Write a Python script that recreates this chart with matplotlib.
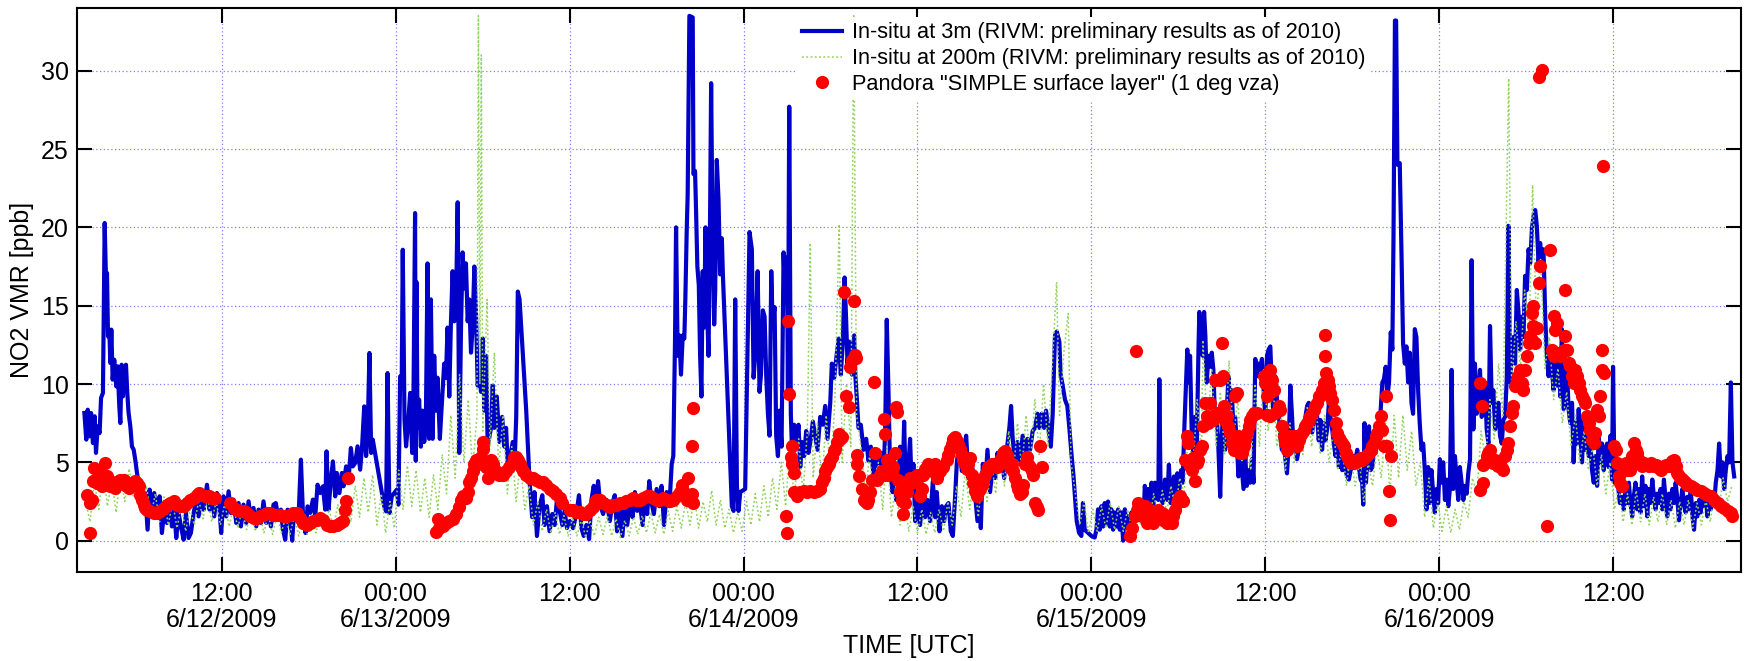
import numpy as np
import matplotlib
matplotlib.use("Agg")
import matplotlib.pyplot as plt
from matplotlib.lines import Line2D

plt.rcParams['font.family'] = ['Liberation Sans', 'DejaVu Sans']

# ---------------- data (time in hours after 2009-06-12 00:00 UTC, NO2 in ppb) ----------------
insitu_3m = [
(2.51,8.15),(2.64,6.45),(2.74,8.36),(2.87,6.66),(2.97,8.15),(3.10,6.23),(3.22,7.94),(3.31,5.60),(3.43,7.30),(3.56,6.87),
(3.66,9.11),(3.79,9.43),(3.91,20.28),(4.00,16.66),(4.07,17.09),(4.14,13.04),(4.23,13.47),(4.30,11.34),(4.37,13.47),(4.46,10.28),
(4.57,11.55),(4.71,9.85),(4.80,11.13),(4.92,8.57),(4.99,7.51),(5.08,11.23),(5.17,9.21),(5.26,10.28),(5.38,11.23),(5.47,9.43),
(5.56,8.15),(5.68,7.30),(5.79,6.02),(5.91,5.81),(6.02,5.17),(6.14,4.32),(6.25,3.68),(6.37,2.83),(6.48,3.26),(6.60,1.98),
(6.71,3.04),(6.87,0.70),(7.01,3.26),(7.17,1.98),(7.33,3.04),(7.52,1.55),(7.70,2.83),(7.86,0.49),(8.02,1.98),(8.21,1.13),
(8.39,2.62),(8.55,0.91),(8.71,1.98),(8.85,0.17),(9.01,1.77),(9.17,0.91),(9.36,0.06),(9.52,1.77),(9.70,0.17),(9.86,0.49),
(10.05,1.77),(10.23,2.62),(10.39,1.55),(10.55,2.62),(10.74,1.98),(10.97,3.57),(11.15,1.98),(11.31,3.04),(11.47,1.55),(11.66,3.04),
(11.84,1.98),(11.95,0.49),(12.11,2.83),(12.30,1.55),(12.46,3.15),(12.62,1.77),(12.80,2.62),(12.99,1.13),(13.15,2.40),(13.31,0.91),
(13.49,2.30),(13.68,1.13),(13.84,2.51),(14.00,1.34),(14.18,2.09),(14.37,0.91),(14.53,1.98),(14.69,1.13),(14.87,2.51),(15.06,1.13),
(15.22,1.98),(15.38,0.91),(15.56,2.30),(15.72,2.40),(15.91,1.34),(16.07,1.98),(16.21,0.70),(16.37,0.06),(16.53,1.98),(16.71,1.55),
(16.85,0.00),(16.99,1.98),(17.17,1.55),(17.31,1.98),(17.45,5.17),(17.59,1.77),(17.77,0.49),(17.91,2.19),(18.09,1.77),(18.28,2.62),
(18.44,1.55),(18.60,3.57),(18.78,3.04),(18.97,3.47),(19.13,1.98),(19.22,5.70),(19.36,1.98),(19.52,3.89),(19.66,5.06),(19.82,2.83),
(19.93,4.32),(20.11,3.04),(20.28,4.32),(20.39,3.47),(20.57,4.74),(20.74,3.89),(20.90,5.91),(21.03,4.74),(21.20,4.96),(21.36,6.02),
(21.54,4.53),(21.68,6.13),(21.82,8.57),(21.95,5.40),(22.05,6.55),(22.18,11.98),(22.30,5.60),(22.41,6.45),(23.20,2.19),(23.33,1.87),
(23.43,10.70),(23.56,1.77),(23.72,2.83),(23.89,3.04),(24.07,3.26),(24.18,2.30),(24.30,10.49),(24.41,10.28),(24.48,18.57),(24.60,7.72),
(24.71,6.02),(24.87,7.72),(24.99,9.43),(25.13,5.60),(25.22,9.21),(25.33,20.91),
(25.38,5.1),(25.43,16.5),(25.50,7.2),(25.61,9.0),(25.73,6.0),(25.84,8.3),(25.96,6.3),(26.07,7.2),(26.19,17.7),(26.30,6.5),
(26.42,15.4),(26.54,6.5),(26.65,11.8),(26.77,8.3),(26.88,10.4),(27.04,6.5),(27.18,8.8),(27.34,11.3),(27.46,10.4),(27.57,13.6),
(27.69,9.2),(27.80,13.8),(27.92,17.2),(28.04,14.0),(28.15,14.7),(28.27,21.6),(28.38,5.6),(28.50,13.6),(28.61,18.4),(28.73,16.1),
(28.84,17.7),(28.96,14.0),(29.07,15.4),(29.19,12.0),(29.30,13.6),(29.42,17.5),(29.54,14.3),(29.65,9.9),(29.77,10.6),(29.88,9.5),
(30.00,12.9),(30.11,8.3),(30.23,11.8),(30.34,6.0),(30.57,7.2),(30.69,9.9),(30.80,7.2),(30.97,9.2),(31.15,6.3),(31.34,7.9),
(31.50,6.0),(31.61,7.2),(31.73,4.7),(31.84,5.1),(32.07,6.3),(32.19,4.7),(32.31,7.9),(32.42,15.9),(32.54,15.4),(32.77,11.8),
(33.00,8.3),(33.23,3.8),(33.41,1.5),(33.57,3.1),(33.74,0.3),(33.92,2.2),(34.11,2.9),(34.27,1.0),(34.43,2.2),(34.61,0.6),
(34.80,1.7),(34.96,1.0),(35.12,2.6),(35.31,1.9),(35.49,1.0),(35.65,1.9),(35.81,0.8),(36.00,1.25),(36.23,0.8),(36.46,1.7),
(36.64,2.9),(36.81,0.8),(36.97,0.3),(37.15,1.0),(37.34,0.1),(37.50,2.6),(37.66,3.5),(37.80,2.2),(37.96,3.8),(38.12,2.2),
(38.31,1.7),(38.54,2.6),(38.77,1.25),(38.95,2.4),(39.11,2.9),(39.27,0.6),(39.46,2.2),(39.64,0.3),(39.81,2.6),(39.97,1.0),
(40.15,2.4),(40.34,1.5),(40.50,3.1),(40.66,1.9),(40.84,2.4),(41.03,1.0),(41.19,2.9),(41.35,1.7),(41.49,3.8),(41.65,2.4),
(41.81,1.7),(42.00,3.3),(42.18,2.2),(42.34,3.5),(42.51,1.0),(42.69,3.1),(42.88,2.2),(43.04,4.9),(43.15,5.4),(43.27,12.9),
(43.34,20.0),(43.45,11.8),(43.57,13.1),(43.68,10.6),(43.80,13.1),(43.91,12.9),(43.98,15.4),(44.08,20.0),(44.14,22.0),(44.26,33.5),
(44.49,33.4),(44.54,23.4),(44.65,23.6),(44.72,21.1),(44.81,17.5),(44.91,16.3),(45.00,11.8),(45.09,9.2),(45.18,17.2),(45.28,13.6),
(45.37,20.0),(45.46,15.4),(45.58,11.8),(45.69,20.9),(45.76,29.2),(45.85,20.4),(45.97,13.8),(46.04,15.9),(46.15,24.3),(46.27,21.8),
(46.38,17.0),(46.50,19.3),(46.57,17.0),(47.19,2.2),(47.31,1.9),(47.42,15.4),(47.54,3.5),(47.65,1.9),(47.77,3.1),(48.11,3.3),
(48.41,19.7),(48.57,18.6),(48.69,10.4),(48.80,11.8),(48.97,17.2),(49.10,9.5),(49.20,10.6),(49.33,14.7),(49.45,14.3),(49.56,10.6),
(49.68,8.1),(49.79,6.7),(49.91,17.2),(50.00,14.0),(50.14,14.9),(50.25,6.7),(50.37,5.4),(50.48,8.3),(50.62,6.0),(50.76,18.4),
(50.87,15.2),(50.99,18.1),(51.06,9.5),(51.15,27.7),(51.26,8.1),(51.38,4.7),(51.49,7.4),(51.63,6.0),(51.79,7.4),(51.91,4.7),
(52.02,6.3),(52.18,5.4),(52.32,7.0),(52.48,5.6),(52.64,6.5),(52.78,7.6),(52.94,6.7),(53.10,5.8),(53.29,7.9),(53.47,7.4),
(53.63,8.6),(53.79,6.5),(53.98,8.8),(54.09,11.3),(54.25,10.4),(54.44,12.0),(54.57,12.9),(54.71,10.6),(54.85,12.7),(54.97,16.8),
(55.08,14.0),(55.17,11.3),(55.31,12.7),(55.47,10.6),(55.63,13.1),(55.72,10.4),(55.82,9.0),(55.93,7.2),(56.09,7.4),(56.28,5.8),
(56.46,6.5),(56.62,5.1),(56.78,6.0),(56.97,4.2),(57.15,5.8),(57.31,4.7),(57.47,5.6),(57.66,4.2),(57.77,7.0),(57.88,14.1),
(58.00,9.5),(58.11,4.45),(58.28,3.1),(58.39,5.1),(58.53,2.6),(58.69,3.8),(58.80,6.0),(58.94,2.6),(59.08,7.6),(59.22,2.2),
(59.38,4.9),(59.49,6.5),(59.61,3.1),(59.72,4.9),(59.84,1.25),(60.00,2.6),(60.18,1.0),(60.37,3.1),(60.53,1.5),(60.69,2.6),
(60.87,1.25),(61.06,3.8),(61.22,1.5),(61.33,3.1),(61.52,0.6),(61.68,2.2),(61.84,1.25),(61.98,2.2),(62.14,2.4),(62.30,0.6),
(62.44,0.3),(62.60,2.85),(62.71,4.9),(62.87,6.3),(63.06,4.45),(63.22,6.0),(63.36,6.7),(63.52,4.0),(63.63,5.4),(63.82,4.45),
(63.98,2.85),(64.14,1.25),(64.28,3.1),(64.37,0.8),(64.51,4.9),(64.67,3.5),(64.83,5.8),(65.01,3.1),(65.20,4.9),(65.36,4.0),
(65.52,5.6),(65.66,4.45),(65.82,5.6),(65.98,4.0),(66.16,5.8),(66.34,7.2),(66.46,8.6),(66.57,6.5),(66.74,4.9),(66.90,6.3),
(67.08,5.1),(67.26,6.7),(67.43,5.4),(67.59,6.5),(67.77,5.8),(67.95,7.0),(68.11,7.2),(68.28,8.1),(68.41,7.2),(68.57,8.1),
(68.74,7.2),(68.87,8.3),(69.03,7.2),(69.20,6.0),(69.33,8.1),(69.49,13.1),(69.61,13.35),(69.79,12.7),(69.88,10.6),(70.02,9.9),
(70.18,9.0),(70.34,8.6),(70.48,7.2),(70.64,5.4),(70.76,4.2),(70.99,1.25),
(71.15,0.5),(71.31,0.3),(71.42,2.4),(71.54,0.7),(71.77,0.5),(72.00,0.3),(72.23,0.2),(72.35,0.7),(72.46,2.0),(72.58,0.7),
(72.69,2.2),(72.81,0.9),(72.92,2.4),(73.04,1.1),(73.15,2.5),(73.27,0.9),(73.38,2.0),(73.50,0.7),(73.62,1.8),(73.73,0.9),
(73.85,2.0),(73.96,0.7),(74.08,1.8),(74.19,0.0),(74.31,2.0),(74.42,0.9),(74.54,1.55),(74.65,0.7),(74.77,1.8),(74.88,0.9),
(75.00,2.2),(75.12,1.33),(75.23,2.6),(75.35,1.33),(75.46,2.4),(75.58,1.1),(75.69,3.5),(75.81,2.0),(75.92,3.3),(76.04,2.4),
(76.15,3.7),(76.27,2.2),(76.39,3.7),(76.50,2.8),(76.62,2.6),(76.69,10.3),(76.78,2.8),(76.92,2.4),(77.08,3.9),(77.24,2.6),
(77.35,4.85),(77.47,2.4),(77.61,3.5),(77.70,4.1),(77.84,3.0),(77.93,4.3),(78.07,3.3),(78.19,4.5),(78.30,3.7),(78.42,7.3),
(78.53,10.1),(78.62,12.2),(78.72,10.1),(78.81,11.8),(78.92,7.1),(79.04,5.4),(79.15,7.9),(79.27,5.8),(79.39,12.2),(79.45,14.6),
(79.57,12.2),(79.69,11.8),(79.78,14.6),(79.87,13.0),(79.96,10.1),(80.08,11.8),(80.19,11.1),(80.31,12.0),(80.42,10.9),(80.54,7.5),
(80.65,8.1),(80.77,5.8),(80.89,2.8),(81.00,6.6),(81.12,8.8),(81.23,5.8),(81.35,8.4),(81.46,10.5),(81.58,8.8),(81.69,9.6),
(81.81,6.9),(81.92,7.9),(82.04,6.2),(82.15,4.1),(82.27,5.8),(82.39,4.5),(82.50,3.3),(82.62,5.4),(82.73,3.5),(82.85,4.5),
(82.96,3.7),(83.08,5.2),(83.19,3.7),(83.31,11.6),(83.42,10.5),(83.54,11.3),(83.65,10.9),(83.77,11.6),(83.89,9.6),(84.00,7.9),
(84.12,11.8),(84.23,12.2),(84.35,12.4),(84.46,9.6),(84.58,7.9),(84.69,10.5),(84.81,9.0),(84.92,8.4),(85.04,6.6),(85.15,5.8),
(85.27,6.9),(85.39,5.2),(85.50,4.3),(85.62,6.2),(85.73,9.9),(85.85,7.9),(85.96,5.8),(86.08,6.4),(86.19,5.2),(86.31,5.8),
(86.42,6.2),(86.54,7.2),(86.65,6.9),(86.77,7.9),(86.89,8.6),(87.00,8.8),(87.12,8.4),(87.23,6.9),(87.35,7.7),(87.46,8.8),
(87.58,7.9),(87.69,6.4),(87.81,7.7),(87.92,5.8),(88.04,7.5),(88.15,6.4),(88.27,7.1),(88.39,8.8),(88.50,7.9),(88.62,7.1),
(88.73,6.2),(88.85,5.4),(88.96,6.2),(89.08,4.7),(89.19,5.2),(89.31,4.5),(89.42,5.8),(89.54,4.5),(89.65,4.1),(89.77,3.9),
(89.89,4.5),(90.00,4.7),(90.12,5.4),(90.23,5.2),(90.35,5.8),(90.46,4.7),(90.58,3.9),(90.69,3.7),(90.76,2.3),(90.85,7.5),
(90.95,3.7),(91.04,5.2),(91.16,7.3),(91.27,4.5),(91.39,4.7),(91.50,6.2),(91.62,5.6),(91.73,7.1),(91.85,6.6),(91.96,8.3),
(92.08,10.1),(92.19,10.3),(92.31,11.1),(92.42,9.1),(92.54,10.1),(92.66,13.3),(92.77,12.2),(92.85,19.4),(92.95,33.2),(93.03,33.2),
(93.12,24.0),(93.28,24.1),(93.40,18.4),(93.51,12.6),(93.63,11.3),(93.74,12.4),(93.86,10.1),(93.97,12.0),(94.09,8.8),(94.20,8.1),
(94.32,13.5),(94.43,13.0),(94.55,9.6),(94.66,7.5),(94.78,5.8),(94.90,6.2),(95.01,4.5),(95.13,2.0),(95.24,4.7),(95.36,2.4),
(95.47,4.5),(95.59,3.0),(95.70,1.8),(95.82,3.3),(95.93,2.4),(96.05,5.2),(96.17,3.7),(96.28,5.0),(96.40,2.6),(96.51,3.9),
(96.63,2.2),(96.74,3.3),(96.86,10.9),(96.97,3.3),(97.09,5.4),(97.20,3.9),(97.32,2.6),(97.43,4.7),(97.55,3.7),(97.67,2.6),
(97.78,3.5),(97.90,3.0),(98.01,4.3),(98.13,5.2),(98.24,17.9),(98.36,7.1),(98.47,11.3),(98.59,8.1),(98.70,9.2),(98.82,10.9),
(98.93,7.9),(99.05,8.1),(99.17,10.1),(99.28,7.1),(99.40,6.2),(99.51,13.7),(99.63,8.8),(99.74,9.6),(99.86,7.1),(99.97,8.1),
(100.09,8.8),(100.20,6.7),(100.32,6.2),(100.43,7.7),(100.55,7.9),(100.67,10.5),(100.78,20.1),(100.90,10.1),(101.01,12.2),(101.13,13.0),
(101.24,11.3),(101.36,16.0),(101.47,14.7),(101.59,12.2),(101.70,14.3),(101.82,13.0),(101.93,16.9),(102.05,16.0),(102.17,18.6),(102.28,17.7),
(102.40,19.9),(102.51,20.7),(102.63,21.1),(102.74,20.1),(102.86,17.7),(102.97,19.0),(103.09,17.7),(103.20,18.6),(103.32,14.3),(103.43,11.8),
(103.55,10.5),(103.67,11.8),(103.78,10.9),(103.90,9.6),(104.01,11.3),(104.13,9.9),(104.24,11.8),(104.36,9.2),(104.47,13.5),(104.59,8.4),
(104.70,8.8),(104.82,11.1),(104.93,8.4),(105.05,7.5),(105.17,8.8),(105.28,5.0),(105.40,7.5),(105.51,6.2),(105.63,8.4),(105.74,6.7),
(105.86,5.0),(105.97,7.9),(106.09,5.8),(106.20,6.7),(106.32,5.4),(106.43,6.2),(106.55,4.5),(106.67,3.7),(106.78,5.4),(106.90,3.5),
(107.01,6.7),(107.13,5.0),(107.24,6.2),(107.36,4.5),(107.47,5.8),(107.59,6.2),(107.70,4.7),(107.82,6.7),(107.93,3.9),(108.00,11.1),
(108.10,3.7),(108.24,4.5),(108.33,3.7),(108.47,2.4),(108.63,2.8),(108.74,2.0),(108.86,3.3),(108.97,2.4),(109.09,3.7),(109.20,2.4),
(109.32,1.55),(109.43,2.8),(109.55,3.7),(109.67,2.0),(109.78,3.3),(109.90,1.8),(110.01,4.1),(110.13,2.2),(110.24,3.5),(110.36,1.55),
(110.47,3.3),(110.59,2.4),(110.71,3.9),(110.82,2.8),(110.94,2.0),(111.05,3.0),(111.17,2.4),(111.28,3.3),(111.40,2.0),(111.51,3.9),
(111.63,2.6),(111.74,1.55),(111.86,3.0),(111.97,2.0),(112.09,3.3),(112.21,2.4),(112.32,3.7),(112.44,2.6),(112.55,1.3),(112.67,2.4),
(112.78,3.3),(112.90,2.4),(113.01,1.8),(113.13,2.8),(113.24,2.0),(113.36,3.3),(113.48,1.55),(113.59,0.7),(113.71,2.4),(113.82,1.55),
(113.94,2.6),(114.05,1.8),(114.17,3.0),(114.28,2.2),(114.40,2.8),(114.51,1.55),(114.63,2.6),(114.75,2.0),(114.86,2.8),(114.98,2.4),
(115.09,3.7),(115.21,4.5),(115.32,6.2),(115.44,4.1),(115.55,5.0),(115.67,3.3),(115.78,4.5),(115.90,5.4),(116.01,5.0),(116.13,10.1),
(116.24,5.0),(116.36,4.1),
]

insitu_200m = [
(2.6,2.5),(2.9,1.2),(3.2,3.8),(3.5,2.0),(3.8,4.5),(4.1,2.2),(4.4,3.9),(4.7,1.8),(5.0,4.2),(5.3,2.5),(5.6,4.6),(5.9,2.8),
(6.2,4.0),(6.5,2.2),(6.8,3.5),(7.1,1.5),(7.4,3.0),(7.7,1.2),(8.0,2.8),(8.3,1.0),(8.6,2.5),(8.9,0.8),(9.2,2.2),(9.5,0.6),
(9.8,2.0),(10.1,1.0),(10.4,2.6),(10.7,1.4),(11.0,2.8),(11.3,1.2),(11.6,2.5),(11.9,1.0),(12.2,2.4),(12.5,0.9),(12.8,2.2),(13.1,0.8),
(13.4,2.0),(13.7,0.7),(14.0,1.9),(14.3,0.6),(14.6,1.8),(14.9,0.5),(15.2,1.7),(15.5,0.4),(15.8,1.6),(16.1,0.5),(16.4,1.5),(16.7,0.4),
(17.0,1.6),(17.3,0.3),(17.6,1.4),(17.9,0.4),(18.2,1.5),(18.5,0.5),(18.8,1.8),(19.1,0.6),(19.4,2.0),(19.7,0.8),(20.0,2.3),(20.3,1.0),
(20.6,2.8),(20.9,1.2),(21.2,3.5),(21.5,1.5),(21.8,4.0),(22.1,1.8),(22.4,4.2),(22.7,1.0),(23.0,3.0),(23.3,0.5),(23.6,2.5),(23.9,0.8),
(24.2,4.5),(24.5,2.0),(24.8,4.8),(25.1,2.2),(25.4,4.5),(25.7,1.8),(26.0,4.0),(26.3,1.5),(26.6,4.2),(26.9,2.0),(27.2,5.5),(27.5,3.0),
(27.8,8.0),(28.1,4.0),(28.4,10.6),(28.7,5.0),(29.0,9.0),(29.3,4.5),(29.6,8.0),(29.7,33.5),(29.8,10.0),(29.9,31.0),(30.0,7.0),(30.3,15.4),
(30.5,6.0),(30.8,12.0),(31.1,4.5),(31.4,8.0),(31.7,3.0),(32.0,6.0),(32.3,2.5),(32.6,5.0),(32.9,2.0),(33.2,3.5),(33.5,1.0),(33.8,2.5),
(34.1,0.6),(34.4,2.0),(34.7,0.5),(35.0,1.8),(35.3,0.4),(35.6,1.6),(35.9,0.3),(36.2,1.5),(36.5,0.3),(36.8,1.4),(37.1,0.2),(37.4,1.3),
(37.7,0.3),(38.0,1.5),(38.3,0.4),(38.6,1.6),(38.9,0.3),(39.2,1.4),(39.5,0.2),(39.8,1.3),(40.1,0.3),(40.4,1.5),(40.7,0.4),(41.0,1.6),
(41.3,0.5),(41.6,1.8),(41.9,0.5),(42.2,1.7),(42.5,0.4),(42.8,1.9),(43.1,0.6),(43.4,2.2),(43.7,0.8),(44.0,2.5),(44.3,1.0),(44.6,2.8),
(44.9,0.8),(45.2,2.5),(45.5,1.2),(45.8,3.2),(46.1,1.0),(46.4,2.6),(46.7,0.8),(47.0,2.0),(47.3,0.5),(47.6,1.8),(47.9,0.6),(48.2,2.5),
(48.5,1.0),(48.8,3.0),(49.1,1.2),(49.4,3.5),(49.7,1.5),(50.0,4.0),(50.3,2.0),(50.6,5.0),(50.9,2.2),(51.2,6.0),(51.5,2.5),(51.8,6.5),
(52.1,3.0),(52.4,7.0),(52.6,19.0),(52.8,4.0),(53.1,7.5),(53.4,3.5),(53.7,8.0),(54.0,4.0),(54.3,9.0),(54.6,20.2),(54.8,5.0),(55.1,10.0),
(55.4,6.0),(55.6,33.5),(55.8,8.0),(56.1,6.0),(56.4,3.0),(56.7,5.5),(57.0,2.5),(57.3,5.0),(57.6,2.0),(57.9,6.0),(58.2,1.5),(58.5,3.5),
(58.8,1.0),(59.1,2.8),(59.4,0.6),(59.7,2.2),(60.0,0.5),(60.3,2.0),(60.6,0.4),(60.9,1.8),(61.2,0.5),(61.5,2.0),(61.8,0.6),(62.1,2.5),
(62.4,1.0),(62.7,3.5),(63.0,1.5),(63.3,4.5),(63.6,2.0),(63.9,4.0),(64.2,1.5),(64.5,4.5),(64.8,2.5),(65.1,5.0),(65.4,3.0),(65.7,6.0),
(66.0,3.5),(66.3,7.0),(66.6,4.0),(66.9,7.5),(67.2,4.5),(67.5,8.0),(67.8,5.0),(68.1,9.0),(68.4,5.5),(68.7,10.0),(69.0,6.0),(69.3,11.0),
(69.6,16.5),(69.8,8.0),(70.1,12.0),(70.4,14.5),(70.6,5.0),(70.9,3.0),(71.2,1.0),(71.5,2.5),(71.8,0.5),(72.1,2.0),(72.4,0.6),(72.7,2.2),
(73.0,0.8),(73.3,2.4),(73.6,0.7),(73.9,2.2),(74.2,0.6),(74.5,2.0),(74.8,0.8),(75.1,2.3),(75.4,1.0),(75.7,2.6),(76.0,1.2),(76.3,3.0),
(76.6,1.5),(76.9,3.2),(77.2,1.8),(77.5,3.5),(77.8,2.0),(78.1,4.0),(78.4,3.0),(78.7,7.0),(79.0,4.5),(79.3,9.0),(79.6,5.5),(79.7,12.8),
(80.0,7.0),(80.3,11.0),(80.6,6.0),(80.9,9.5),(81.2,5.5),(81.5,11.5),(81.8,6.5),(82.1,9.0),(82.4,5.0),(82.7,8.0),(83.0,4.5),(83.3,10.0),
(83.6,6.0),(83.9,11.0),(84.2,7.0),(84.5,10.5),(84.8,6.0),(85.1,8.0),(85.4,4.5),(85.7,7.5),(86.0,5.0),(86.3,7.0),(86.6,5.5),(86.9,8.5),
(87.2,6.0),(87.5,8.5),(87.8,5.5),(88.1,8.0),(88.4,5.0),(88.7,7.0),(89.0,4.5),(89.3,6.0),(89.6,3.5),(89.9,5.5),(90.2,3.5),(90.5,5.0),
(90.8,2.5),(91.1,5.0),(91.4,3.5),(91.7,6.0),(92.0,4.0),(92.3,7.5),(92.6,3.0),(92.9,8.0),(93.2,4.0),(93.5,8.0),(93.8,4.5),(94.1,7.0),
(94.4,3.5),(94.7,5.0),(95.0,1.5),(95.3,4.0),(95.6,0.8),(95.9,2.5),(96.2,0.6),(96.5,2.2),(96.8,0.5),(97.1,2.0),(97.4,0.7),(97.7,2.5),
(98.0,1.5),(98.3,4.0),(98.6,3.0),(98.9,7.0),(99.2,5.0),(99.5,9.0),(99.8,6.5),(100.1,11.3),(100.4,8.0),(100.8,29.5),(101.0,10.0),(101.3,14.0),
(101.6,11.0),(101.9,16.0),(102.2,13.0),(102.45,22.7),(102.7,14.0),(103.0,18.0),(103.3,11.0),(103.6,13.0),(103.9,9.0),(104.2,11.0),(104.5,7.5),(104.8,9.5),
(105.1,6.0),(105.4,8.0),(105.7,5.0),(106.0,7.0),(106.3,4.5),(106.6,6.0),(106.9,3.5),(107.2,5.5),(107.5,3.0),(107.8,5.0),(108.1,2.0),(108.4,3.5),
(108.7,1.2),(109.0,3.0),(109.3,1.0),(109.6,3.2),(109.9,1.2),(110.2,3.0),(110.5,1.0),(110.8,2.8),(111.1,1.2),(111.4,3.0),(111.7,1.0),(112.0,2.6),
(112.3,0.8),(112.6,2.5),(112.9,1.0),(113.2,2.6),(113.5,0.8),(113.8,2.4),(114.1,1.0),(114.4,2.6),(114.7,1.2),(115.0,3.0),(115.3,2.0),(115.6,4.0),
(115.9,2.5),(116.2,3.5),
]

pandora = [
(2.69,2.94),(2.87,0.49),(2.92,2.40),(3.03,2.62),(3.10,3.79),(3.20,4.64),(3.26,3.89),(3.38,3.68),(3.49,4.32),(3.61,3.79),
(3.72,3.47),(3.84,4.21),(3.95,4.96),(4.07,4.11),(4.18,3.89),(4.30,3.47),(4.41,3.68),(4.53,3.57),(4.64,3.36),(4.76,3.68),
(4.87,3.79),(4.99,3.89),(5.10,3.79),(5.22,3.89),(5.33,3.57),(5.45,3.47),(5.56,3.36),(5.68,3.57),(5.79,3.68),(5.91,3.57),
(6.02,3.79),(6.14,3.68),(6.25,3.47),(6.37,2.94),(6.48,2.62),(6.60,2.30),(6.71,2.09),(6.83,1.98),(7.06,1.87),(7.29,1.77),
(7.52,1.77),(7.75,1.87),(7.98,2.09),(8.21,2.30),(8.44,2.40),(8.67,2.51),(8.90,2.30),(9.13,2.19),(9.36,2.19),(9.59,2.40),
(9.82,2.62),(10.05,2.72),(10.28,2.94),(10.39,3.04),(10.62,2.94),(10.85,2.83),(11.08,2.83),(11.31,2.72),(11.54,2.72),
(12.57,2.40),(12.80,2.09),(13.03,1.98),(13.26,1.87),(13.49,1.87),(13.72,1.77),(13.95,1.55),(14.18,1.45),(14.41,1.45),(14.64,1.55),
(14.87,1.66),(15.10,1.77),(15.33,1.77),(15.56,1.66),(15.79,1.66),(16.02,1.66),(16.25,1.55),(16.48,1.55),(16.71,1.66),(16.94,1.77),
(17.17,1.77),(17.40,1.45),(17.63,1.13),(17.86,1.02),(18.09,1.13),(18.32,1.23),(18.55,1.34),(18.78,1.45),(19.01,1.34),(19.24,1.02),
(19.47,0.91),(19.70,0.91),(19.93,1.02),(20.16,1.13),(20.39,1.23),(20.51,1.98),(20.57,2.51),(20.67,4.00),
(26.77,0.57),(26.88,1.37),(27.00,0.80),(27.23,0.91),(27.46,1.14),(27.69,1.25),(27.92,1.37),(28.15,1.71),(28.38,2.17),(28.50,2.62),
(28.61,2.85),(28.84,2.74),(28.96,3.08),(29.07,3.76),(29.19,3.99),(29.30,4.45),(29.42,4.91),(29.54,5.13),(29.65,4.91),(29.77,5.13),
(29.88,5.36),(30.00,6.27),(30.02,5.82),(30.11,4.91),(30.23,4.68),(30.34,3.99),(30.46,4.68),(30.57,5.13),(30.69,4.91),(30.92,4.45),
(31.15,4.22),(31.38,4.22),(31.61,4.45),(31.84,4.68),(32.07,5.02),(32.19,5.36),(32.31,5.36),(32.42,5.13),(32.54,4.91),(32.65,4.68),
(32.77,4.45),(33.00,4.22),(33.23,3.99),(33.46,3.99),(33.69,3.88),(33.92,3.76),(34.15,3.76),(34.38,3.54),(34.61,3.31),(34.84,3.19),
(35.07,2.97),(35.31,2.74),(35.49,2.40),
(36.00,1.94),(36.23,1.94),(36.46,1.83),(36.69,1.83),(36.92,1.71),(37.15,1.71),(37.38,1.94),(37.61,2.17),(37.84,2.62),(38.07,2.62),
(38.31,2.40),(38.54,2.28),(38.77,2.17),(39.00,2.28),(39.23,2.28),(39.46,2.40),(39.69,2.40),(39.92,2.51),(40.15,2.62),(40.38,2.74),
(40.61,2.62),(40.84,2.62),(41.07,2.74),(41.31,2.85),(41.54,2.85),(41.77,2.74),(42.00,2.62),(42.23,2.62),(42.46,2.74),(42.69,2.62),
(42.92,2.51),(43.15,2.62),(43.38,2.85),(43.61,3.08),(43.73,3.54),(43.84,3.19),(43.96,2.85),(44.08,2.62),(44.19,3.99),(44.42,2.97),
(44.49,2.40),(44.42,6.05),(44.49,8.44),
(50.92,1.60),(50.99,0.46),(51.06,14.03),(51.15,9.35),(51.26,5.36),(51.33,6.05),(51.33,4.91),(51.45,4.33),(51.45,3.08),(51.68,2.85),
(51.91,3.08),(52.14,3.19),(52.37,3.08),(52.60,3.19),(52.83,3.08),(53.06,3.19),(53.29,3.31),(53.40,3.76),(53.52,3.99),(53.63,4.45),
(53.75,4.68),(53.86,4.91),(53.98,5.13),(54.09,5.36),(54.21,5.70),(54.32,5.82),(54.44,6.27),(54.55,6.84),(54.67,6.50),(54.78,6.62),
(54.90,15.86),(55.08,9.24),(55.24,8.56),(55.36,11.07),(55.47,11.52),(55.59,15.29),(55.70,11.86),(55.77,11.64),(55.82,5.48),(55.86,4.91),
(55.95,4.11),(56.16,3.31),(56.28,2.62),(56.39,2.51),(56.51,2.40),(56.62,2.62),(56.74,3.08),(56.85,3.88),(56.97,10.15),(57.08,5.59),
(57.20,3.88),(57.31,3.99),(57.43,4.22),(57.54,4.45),(57.66,4.22),(57.72,7.76),(57.77,6.84),(57.89,5.13),(58.00,4.22),(58.11,4.91),
(58.23,4.45),(58.34,4.68),(58.46,5.59),(58.53,8.56),(58.62,8.21),(58.69,3.88),(58.80,3.08),(58.92,2.51),(59.03,1.71),(59.15,2.40),
(59.26,3.08),(59.38,3.54),(59.49,3.99),(59.61,3.88),(59.72,3.76),(59.84,3.99),(59.95,4.22),(60.07,3.99),(60.18,2.85),(60.30,3.31),
(60.41,4.22),(60.53,4.56),(60.64,4.68),(60.76,4.91),(60.87,4.79),(60.99,4.45),(61.10,4.68),(61.22,4.91),(61.33,3.99),(61.45,4.68),
(61.56,4.45),(61.79,4.68),(62.02,5.13),(62.14,5.48),(62.25,5.82),(62.37,6.16),(62.48,6.50),(62.60,6.62),(62.71,6.39),(62.83,6.16),
(62.94,5.82),(63.06,5.48),(63.17,5.13),(63.29,4.91),(63.40,4.56),(63.52,4.91),(63.63,5.25),(63.75,4.22),(63.86,3.65),(63.98,3.19),
(64.09,2.85),(64.21,3.08),(64.32,3.31),(64.44,3.54),(64.55,3.88),(64.67,4.22),(64.78,4.45),(64.90,4.68),(65.01,4.79),(65.13,4.91),
(65.24,4.79),(65.36,4.91),(65.47,4.68),(65.59,4.91),(65.70,5.13),(65.82,5.36),(65.93,5.59),(66.05,5.70),(66.16,5.48),(66.28,5.13),
(66.39,4.68),(66.51,4.91),(66.62,4.45),(66.74,3.99),(66.85,3.54),(66.97,3.31),(67.08,2.97),(67.20,3.08),(67.31,3.54),(67.43,4.91),
(67.54,5.36),(67.66,4.91),(67.77,4.68),(67.89,4.45),(68.00,4.22),(68.11,2.40),(68.23,2.17),(68.34,1.94),(68.46,6.05),(68.57,4.68),
(74.65,0.28),(74.82,0.81),(75.00,1.55),(75.07,12.09),(75.12,1.98),(75.23,2.40),(75.35,1.98),(75.46,1.55),(75.58,1.77),(75.69,2.19),
(75.81,1.13),(75.92,1.55),(76.04,1.98),(76.15,1.77),(76.27,1.13),(76.39,1.34),(76.50,1.77),(76.62,1.98),(76.73,1.55),(76.85,1.77),
(76.96,1.34),(77.08,1.66),(77.19,1.13),(77.31,1.55),(77.42,1.34),(77.54,1.13),(77.65,1.55),(77.77,1.98),(77.89,2.40),(78.00,2.62),
(78.12,2.83),(78.23,2.62),(78.35,2.51),(78.46,5.17),(78.58,6.66),(78.69,6.23),(78.81,4.74),(78.92,4.53),(79.04,5.28),(79.15,3.79),
(79.27,4.96),(79.39,5.17),(79.50,5.81),(79.62,6.02),(79.73,7.30),(79.85,8.79),(79.96,7.94),(80.08,7.51),(80.19,8.79),(80.31,7.94),
(80.42,7.72),(80.54,10.28),(80.65,7.94),(80.77,8.15),(80.89,10.28),(81.00,12.62),(81.07,10.49),(81.12,8.57),(81.23,7.72),(81.35,7.94),
(81.46,7.30),(81.58,6.87),(81.69,6.23),(81.81,5.81),(81.92,9.21),(82.04,9.43),(82.15,6.66),(82.27,5.60),(82.39,5.60),(82.50,6.02),
(82.62,6.45),(82.73,6.87),(82.85,7.30),(82.96,7.72),(83.08,7.94),(83.19,8.15),(83.31,8.15),(83.42,8.15),(83.89,10.49),(84.00,10.06),
(84.12,9.21),(84.12,8.04),(84.23,9.85),(84.35,10.91),(84.35,7.94),(84.46,10.28),(84.58,9.64),(84.69,8.15),(84.92,8.57),(85.04,8.36),
(85.15,7.30),(85.27,6.66),(85.39,6.23),(85.50,5.81),(85.62,6.45),(85.73,6.66),(85.85,6.23),(85.96,6.45),(86.08,6.66),(86.19,6.02),
(86.31,6.45),(86.42,6.66),(86.54,6.87),(86.65,7.09),(86.77,7.30),(86.89,7.51),(87.00,7.72),(87.12,7.94),(87.23,8.15),(87.35,8.36),
(87.46,8.57),(87.58,8.79),(87.69,9.21),(87.81,9.21),(87.92,9.64),(88.04,10.06),(88.09,13.15),(88.15,11.77),(88.22,10.70),(88.32,10.28),
(88.39,9.85),(88.50,9.43),(88.62,9.00),(88.73,8.36),(88.85,7.51),(88.96,6.87),(89.08,6.55),(89.19,6.45),(89.31,6.23),(89.42,6.02),
(89.54,5.60),(89.65,5.38),(89.77,5.17),(89.89,4.96),(90.00,5.06),(90.12,4.96),(90.23,5.06),(90.35,5.17),(90.46,5.17),(90.58,5.28),
(90.69,5.17),(90.81,5.28),(90.93,5.38),(91.04,5.49),(91.16,5.60),(91.27,5.81),(91.39,6.02),(91.50,6.23),(91.62,6.66),(91.73,6.87),
(91.85,7.30),(91.96,7.94),(92.08,7.09),(92.19,6.02),(92.31,9.21),(92.42,6.02),(92.54,3.15),(92.61,1.34),(92.66,5.38),
(98.82,3.26),(98.82,10.06),(98.93,8.57),(99.00,3.68),(99.05,4.85),(99.17,4.96),(99.28,5.38),(99.40,5.60),(99.51,5.81),(99.63,5.17),
(99.74,4.96),(99.86,5.17),(99.97,4.85),(100.09,4.74),(100.20,4.96),(100.32,4.64),(100.43,4.53),(100.55,5.38),(100.67,5.81),(100.78,6.23),
(100.90,7.30),(101.01,8.15),(101.13,8.57),(101.24,9.85),(101.36,10.28),(101.47,10.49),(101.59,10.91),(101.70,10.06),(101.82,9.64),(101.93,10.91),
(102.05,11.77),(102.17,12.62),(102.28,13.04),(102.40,12.83),(102.40,14.53),(102.51,13.70),(102.51,14.96),(102.63,12.62),(102.74,13.60),(102.86,16.45),
(102.90,29.57),(102.97,17.51),(103.13,30.06),(103.43,0.91),(103.67,18.57),(103.78,12.19),(103.90,14.32),(103.90,11.77),(104.01,13.47),(104.13,13.89),
(104.13,11.98),(104.36,11.77),(104.59,12.19),(104.70,16.02),(104.70,13.04),(104.82,12.19),(104.93,11.34),(105.05,11.13),(105.17,10.49),(105.28,10.06),
(105.40,10.91),(105.51,10.49),(105.63,10.06),(105.74,9.64),(105.86,9.21),(105.97,9.00),(106.09,8.79),(106.20,7.94),(106.32,7.51),(106.43,7.09),
(106.55,6.45),(106.67,6.23),(106.78,6.87),(106.90,8.36),(107.01,7.94),(107.13,9.21),(107.24,12.19),(107.24,10.91),(107.29,23.89),(107.40,10.70),
(108.05,6.02),(108.17,5.81),(108.28,4.96),(108.40,4.11),(108.51,3.68),(108.63,3.47),(108.74,4.53),(108.86,4.96),(108.97,4.53),(109.09,4.74),
(109.20,4.53),(109.32,5.38),(109.43,6.23),(109.55,5.81),(109.67,5.60),(109.78,5.17),(109.90,4.96),(110.01,4.74),(110.13,4.96),(110.24,4.85),
(110.36,4.85),(110.47,4.74),(110.59,4.96),(110.71,4.85),(110.82,4.74),(110.94,4.85),(111.05,4.74),(111.17,4.64),(111.28,4.53),(111.40,4.64),
(111.51,4.74),(111.63,4.85),(111.74,4.74),(111.86,4.74),(111.97,4.96),(112.09,5.06),(112.21,5.17),(112.32,4.74),(112.44,4.32),(112.55,4.11),
(112.67,3.96),(112.78,3.96),(112.90,3.79),(113.01,3.68),(113.13,3.57),(113.36,3.47),(113.59,3.36),(113.82,3.26),(114.05,3.15),(114.28,3.04),
(114.51,2.94),(114.75,2.83),(114.98,2.62),(115.21,2.40),(115.44,2.19),(115.67,2.09),(115.90,1.87),(116.13,1.77),(116.24,1.55),
]

tick_hours = [12, 24, 36, 48, 60, 72, 84, 96, 108]
tick_labels = ["12:00\n6/12/2009", "00:00\n6/13/2009", "12:00", "00:00\n6/14/2009", "12:00",
               "00:00\n6/15/2009", "12:00", "00:00\n6/16/2009", "12:00"]
yticks = [0, 5, 10, 15, 20, 25, 30]
x_range_hours = (2.0, 116.83)
y_range = (-2, 34)

labels = ['In-situ at 3m (RIVM: preliminary results as of 2010)',
          'In-situ at 200m (RIVM: preliminary results as of 2010)',
          'Pandora "SIMPLE surface layer" (1 deg vza)']

# ---------------- helpers ----------------
T0 = np.datetime64('2009-06-12T00:00:00')
def to_time(hours):
    return T0 + (np.asarray(hours, dtype=float) * 3600).round().astype('timedelta64[s]')

def split(pairs):
    h, v = zip(*pairs)
    return to_time(h), np.array(v)

t1, v1 = split(insitu_3m)
t2, v2 = split(insitu_200m)
t3, v3 = split(pandora)

BLUE = '#0000c8'
GREEN = '#8fd35a'
RED = '#ff0000'
GRID = '#8080ff'
BLUE_LW = 3.0
GREEN_LS = (0, (1.2, 1.6))

fig = plt.figure(figsize=(17.44, 6.61), dpi=100)
ax = fig.add_axes([77/1744, 1 - 572/661, (1741-77)/1744, (572-8)/661])

ax.plot(t1, v1, color=BLUE, lw=BLUE_LW, zorder=3)
ax.plot(t2, v2, color=GREEN, lw=1.1, ls=GREEN_LS, zorder=4)
ax.plot(t3, v3, ls='none', marker='o', ms=9.5, mfc=RED, mec='none', zorder=5)

ax.set_xlim(to_time(x_range_hours[0]), to_time(x_range_hours[1]))
ax.set_ylim(*y_range)
ax.set_xticks(to_time(tick_hours))
ax.set_xticklabels(tick_labels, linespacing=1.1)
ax.set_yticks(yticks)
ax.set_yticklabels([str(y) for y in yticks])

ax.grid(True, color=GRID, ls=(0, (1, 2)), lw=0.9, zorder=1)
ax.tick_params(axis='both', which='major', direction='in', length=11, width=1.5,
               top=True, right=True, labelsize=18, colors='black')
ax.tick_params(axis='x', pad=7)
ax.tick_params(axis='y', pad=6)
for s in ax.spines.values():
    s.set_linewidth(1.5)
    s.set_zorder(6)

ax.set_ylabel('NO2 VMR [ppb]', fontsize=18, labelpad=5)
ax.set_xlabel('TIME [UTC]', fontsize=18, labelpad=2)

handles = [Line2D([], [], color=BLUE, lw=BLUE_LW),
           Line2D([], [], color=GREEN, lw=1.1, ls=GREEN_LS),
           Line2D([], [], ls='none', marker='o', ms=9.5, mfc=RED, mec='none')]
leg = fig.legend(handles, labels, loc='upper left', bbox_to_anchor=(797/1744, 1 - 17/661),
                 fontsize=15.7, frameon=True, fancybox=False, edgecolor='none', facecolor='white',
                 framealpha=1, borderpad=0.25, handlelength=1.8, handletextpad=0.45,
                 labelspacing=0.22, borderaxespad=0)
leg.set_zorder(10)

fig.savefig('out.png', dpi=100)
